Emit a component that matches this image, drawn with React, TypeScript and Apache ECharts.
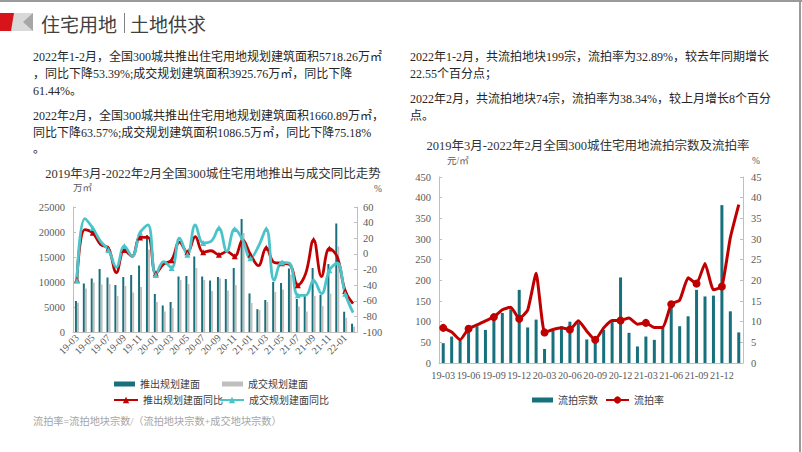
import React, { useEffect, useRef } from "react";
import * as echarts from "echarts";

const months = [
  "19-03","19-04","19-05","19-06","19-07","19-08","19-09","19-10","19-11","19-12",
  "20-01","20-02","20-03","20-04","20-05","20-06","20-07","20-08","20-09","20-10","20-11","20-12",
  "21-01","21-02","21-03","21-04","21-05","21-06","21-07","21-08","21-09","21-10","21-11","21-12",
  "22-01","22-02",
];

// 推出规划建面 (万㎡)
const launchArea = [6200, 9700, 10700, 12600, 10900, 9400, 11000, 11400, 13300, 19400,
  7600, 5300, 6000, 11100, 11200, 15100, 11100, 10300, 11000, 10600, 12800, 22600,
  7709, 4559, 6400, 10000, 9800, 12700, 6600, 7300, 12800, 7400, 13600, 21700, 4057, 1661];
// 成交规划建面 (万㎡)
const dealArea = [5850, 8700, 9900, 9500, 9600, 7200, 9200, 7900, 9000, 16500,
  6000, 4100, 4800, 10400, 9600, 12800, 10400, 8200, 10700, 8300, 9400, 19800,
  5803, 4378, 6000, 8000, 8500, 11500, 5100, 4100, 7200, 5200, 7700, 17100, 2839, 1087];
// 推出规划建面同比 (%)
const launchYoY = [-33, 31, 27, 12, 7, -24, 5, -3, 21, 21,
  -25, -13, -8, 15, 2, 22, 2, 4, -1, 3, -3, 18,
  -1, -15, 8, -11, -12, -14, -40, -25, 18, -29, 7, -4, -47.4, -63.57];
// 成交规划建面同比 (%)
const dealYoY = [-34.5, 45, 33, 16, 5, -17, 10, -3, 27, 37,
  -27, -10, -18, 20, -1, 37, 14, 16, 33, 3, 32, 18,
  -5.6, 9.5, 32, -34, -11, -12.5, -53, -53, -34, -51, -21, -12, -51.1, -75.18];

// 流拍宗数
const failedCount = [48, 64, 55, 80, 89, 80, 108, 121, 130, 177, 86, 105,
  34, 78, 89, 100, 97, 57, 53, 80, 99, 207, 73, 40,
  64, 56, 85, 137, 89, 113, 177, 161, 163, 382, 125, 74];
// 流拍率 (%)
const failedRate = [8.5, 7.5, 5.6, 8.3, 9.2, 10.2, 11.1, 12.9, 13.5, 10.7, 12.8, 21.7,
  7.4, 8.1, 8.5, 8.1, 10.2, 7.7, 5.6, 8.5, 10.3, 10.3, 10.9, 9.4,
  9.7, 8.6, 8.6, 14.2, 15.2, 20.6, 19.2, 24.1, 17.7, 18.5, 30.34, 38.34];

const leftParagraph = [
  "2022年1-2月，全国300城共推出住宅用地规划建筑面积5718.26万㎡",
  "，同比下降53.39%;成交规划建筑面积3925.76万㎡，同比下降",
  "61.44%。",
  "2022年2月，全国300城共推出住宅用地规划建筑面积1660.89万㎡，",
  "同比下降63.57%;成交规划建筑面积1086.5万㎡，同比下降75.18%",
  "。",
];
const leftParagraphY = [57, 74, 91, 116, 133, 149];
const rightParagraph = [
  "2022年1-2月，共流拍地块199宗，流拍率为32.89%，较去年同期增长",
  "22.55个百分点；",
  "2022年2月，共流拍地块74宗，流拍率为38.34%，较上月增长8个百分",
  "点。",
];
const rightParagraphY = [57, 74, 99, 116];

const FONT = '"Liberation Serif", "Noto Sans CJK SC", serif';
const TXT = "#262626";
const AX = "#595959";
const AXLINE = "#BFBFBF";
const TEAL = "#17707C";
const GRAY = "#BFBFBF";
const RED = "#C00000";
const CYAN = "#4BC4C9";

function txt(x: number, y: number, text: string, size: number, fill = TXT, align = "left", family = FONT) {
  return {
    type: "text",
    x,
    y,
    silent: true,
    style: { text, fill, fontSize: size, fontFamily: family, textAlign: align, textVerticalAlign: "middle" },
  };
}

const plain = (v: number) => String(v);

export default function App() {
  const ref = useRef<HTMLDivElement>(null);
  useEffect(() => {
    if (!ref.current) return;
    const chart = echarts.init(ref.current, undefined, { renderer: "svg" });
    const legendText = { fontSize: 10, color: "#404040", fontFamily: FONT };
    const yLabel = { fontSize: 10.5, color: AX, margin: 8, fontFamily: FONT, formatter: plain };
    const yLine = { show: true, lineStyle: { color: AXLINE } };
    const yTick = { show: true, inside: true, length: 3, lineStyle: { color: AXLINE } };
    const option: any = {
      animation: false,
      backgroundColor: "#ffffff",
      textStyle: { fontFamily: FONT },
      grid: [
        { left: 73, top: 207, width: 284, height: 125 },
        { left: 439, top: 177, width: 304, height: 186 },
      ],
      xAxis: [
        {
          type: "category", gridIndex: 0, data: months,
          axisLine: { lineStyle: { color: AXLINE } },
          axisTick: { show: false },
          axisLabel: { interval: 1, rotate: 45, fontSize: 10, color: AX, margin: 4, fontFamily: FONT },
        },
        {
          type: "category", gridIndex: 1, data: months,
          axisLine: { lineStyle: { color: AXLINE } },
          axisTick: { show: false },
          axisLabel: {
            interval: 2, fontSize: 10.2, color: AX, margin: 7, fontFamily: FONT, hideOverlap: false,
          },
        },
      ],
      yAxis: [
        {
          type: "value", gridIndex: 0, min: 0, max: 25000, interval: 5000,
          axisLine: yLine, axisTick: yTick, splitLine: { show: false }, axisLabel: yLabel,
        },
        {
          type: "value", gridIndex: 0, position: "right", min: -100, max: 60, interval: 20,
          axisLine: yLine, axisTick: yTick, splitLine: { show: false }, axisLabel: { ...yLabel, margin: 6 },
        },
        {
          type: "value", gridIndex: 1, min: 0, max: 450, interval: 50,
          axisLine: yLine, axisTick: yTick, splitLine: { show: false }, axisLabel: yLabel,
        },
        {
          type: "value", gridIndex: 1, position: "right", min: 0, max: 45, interval: 5,
          axisLine: yLine, axisTick: yTick, splitLine: { show: false }, axisLabel: yLabel,
        },
      ],
      legend: [
        { data: [{ name: "推出规划建面", icon: "rect" }], left: 109, top: 374, itemWidth: 21, itemHeight: 5, itemGap: 0, textStyle: legendText },
        { data: [{ name: "成交规划建面", icon: "rect" }], left: 217, top: 374, itemWidth: 21, itemHeight: 5, textStyle: legendText },
        { data: ["推出规划建面同比"], left: 108, top: 390, itemWidth: 24, itemHeight: 8, textStyle: legendText },
        { data: ["成交规划建面同比"], left: 214, top: 390, itemWidth: 24, itemHeight: 8, textStyle: legendText },
        { data: [{ name: "流拍宗数", icon: "rect" }], left: 527, top: 390, itemWidth: 21, itemHeight: 5, textStyle: legendText },
        { data: ["流拍率"], left: 600, top: 390, itemWidth: 23, itemHeight: 9, textStyle: legendText },
      ],
      series: [
        {
          name: "推出规划建面", type: "bar", xAxisIndex: 0, yAxisIndex: 0, data: launchArea,
          barWidth: 2, barGap: "0%", itemStyle: { color: TEAL },
        },
        {
          name: "成交规划建面", type: "bar", xAxisIndex: 0, yAxisIndex: 0, data: dealArea,
          barWidth: 2, barGap: "0%", itemStyle: { color: GRAY },
        },
        {
          name: "推出规划建面同比", type: "line", xAxisIndex: 0, yAxisIndex: 1, data: launchYoY,
          smooth: 0.4, symbol: "triangle", symbolSize: 6,
          lineStyle: { color: RED, width: 2.8 }, itemStyle: { color: RED },
        },
        {
          name: "成交规划建面同比", type: "line", xAxisIndex: 0, yAxisIndex: 1, data: dealYoY,
          smooth: 0.4, symbol: "triangle", symbolSize: 6,
          lineStyle: { color: CYAN, width: 2.8 }, itemStyle: { color: CYAN },
        },
        {
          name: "流拍宗数", type: "bar", xAxisIndex: 1, yAxisIndex: 2, data: failedCount,
          barWidth: 3, itemStyle: { color: TEAL },
        },
        {
          name: "流拍率", type: "line", xAxisIndex: 1, yAxisIndex: 3, data: failedRate,
          smooth: 0.15, symbol: "circle", symbolSize: 8,
          lineStyle: { color: RED, width: 3 }, itemStyle: { color: RED },
        },
      ],
      graphic: [
        { type: "rect", shape: { x: 0, y: 0, width: 802, height: 2 }, style: { fill: "#9a9a9a" }, silent: true },
        { type: "rect", shape: { x: 799, y: 0, width: 2, height: 452 }, style: { fill: "#9a9a9a" }, silent: true },
        { type: "polygon", shape: { points: [[0, 13], [15, 13], [12, 31], [0, 31]] }, style: { fill: "#D7141A" }, silent: true },
        { type: "polygon", shape: { points: [[14, 13], [33, 13], [33, 31], [11, 31]] }, style: { fill: "#D9D9D9" }, silent: true },
        { type: "polygon", shape: { points: [[23, 22], [33, 13], [33, 31]] }, style: { fill: "#A6A6A6" }, silent: true },
        txt(41, 23, "住宅用地", 19, "#404040", "left", '"Noto Sans CJK SC", sans-serif'),
        { type: "line", shape: { x1: 124.5, y1: 13, x2: 124.5, y2: 33 }, style: { stroke: "#808080", lineWidth: 1 }, silent: true },
        txt(130, 23, "土地供求", 19, "#404040", "left", '"Noto Sans CJK SC", sans-serif'),
        ...leftParagraph.map((t, i) => txt(33, leftParagraphY[i], t, 12)),
        ...rightParagraph.map((t, i) => txt(410, rightParagraphY[i], t, 12)),
        txt(213, 174, "2019年3月-2022年2月全国300城住宅用地推出与成交同比走势", 12.5, "#333333", "center"),
        txt(588, 146, "2019年3月-2022年2月全国300城住宅用地流拍宗数及流拍率", 12.5, "#333333", "center"),
        txt(73, 188, "万㎡", 9.5, AX),
        txt(374, 189, "%", 9.5, AX),
        txt(447, 161, "元/㎡", 9.5, AX),
        txt(752, 161, "%", 9.5, AX),
        txt(33, 421, "流拍率=流拍地块宗数/（流拍地块宗数+成交地块宗数）", 10.2, "#A6A6A6"),
      ],
    };
    chart.setOption(option);
    return () => chart.dispose();
  }, []);
  return (
    <div
      ref={ref}
      style={{ position: "absolute", left: 0, top: 0, width: 802, height: 452, background: "#fff" }}
    />
  );
}
